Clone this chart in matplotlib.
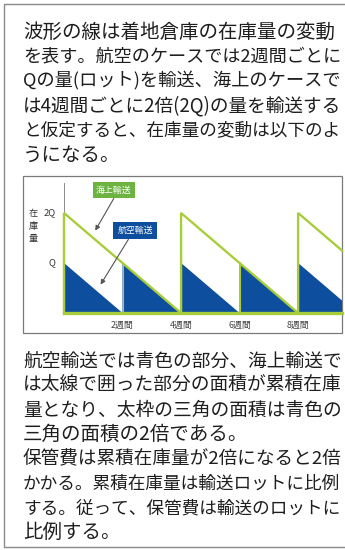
import matplotlib

matplotlib.use("Agg")

import matplotlib.pyplot as plt
from matplotlib.patches import Rectangle

plt.rcParams["font.family"] = ["Noto Sans CJK JP", "DejaVu Sans"]

# text blocks
para_top = [
    "波形の線は着地倉庫の在庫量の変動",
    "を表す。航空のケースでは2週間ごとに",
    "Qの量(ロット)を輸送、海上のケースで",
    "は4週間ごとに2倍(2Q)の量を輸送する",
    "と仮定すると、在庫量の変動は以下のよ",
    "うになる。",
]
para_bottom = [
    "航空輸送では青色の部分、海上輸送で",
    "は太線で囲った部分の面積が累積在庫",
    "量となり、太枠の三角の面積は青色の",
    "三角の面積の2倍である。",
    "保管費は累積在庫量が2倍になると2倍",
    "かかる。累積在庫量は輸送ロットに比例",
    "する。従って、保管費は輸送のロットに",
    "比例する。",
]

# inventory model (units: weeks, Q)
sea_starts = [0, 4, 8]
sea_period = 4
sea_peak = 2
air_starts = [0, 2, 4, 6, 8]
air_period = 2
air_peak = 1
x_end = 9.5
tick_weeks = [2, 4, 6, 8]
tick_labels = ["2週間", "4週間", "6週間", "8週間"]
y_ticks = [1, 2]
y_tick_labels = ["Q", "2Q"]

GREEN = "#a9cd3a"
BLUE = "#0d4e9e"
LABEL_GREEN = "#6cb33f"
W, H = 345, 550
TEXT_X, TEXT_W = 23, 319


def fit_lines(lines, y0, step, fontsize):
    texts = []
    for i, line in enumerate(lines):
        texts.append(page.text(TEXT_X, y0 + step * i, line, fontsize=fontsize,
                               color="#1e1e1e", va="center", ha="left"))
    renderer = fig.canvas.get_renderer()
    for t in texts:
        width = t.get_window_extent(renderer).width
        if width > TEXT_W:
            t.set_fontsize(fontsize * TEXT_W / width)


fig = plt.figure(figsize=(W / 100, H / 100), dpi=100)
fig.patch.set_facecolor("white")

# page overlay in pixel coords
page = fig.add_axes([0, 0, 1, 1])
page.set_xlim(0, W)
page.set_ylim(H, 0)
page.axis("off")
page.add_patch(Rectangle((4, 4), W + 10, H - 7, fill=False, ec="#8a8a8a", lw=1.0))
page.add_patch(Rectangle((23, 176), 319, 157, fill=False, ec="#7a7a7a", lw=0.9))

fit_lines(para_top, 32, 24.6, 14.0)
fit_lines(para_bottom, 361, 24.5, 14.0)

# chart axes: x0 at px 64, baseline at px 313, Q = 50 px
left, right, base, top = 64, 342, 313, 176
ax = fig.add_axes([left / W, (H - base) / H, (right - left) / W, (base - top) / H])
ax.set_xlim(0, x_end)
ax.set_ylim(0, (base - top) / 50)
ax.axis("off")
ax.patch.set_alpha(0)

for s in air_starts:
    e = s + air_period
    ax.fill([s, s, e], [0, air_peak, 0], color=BLUE, lw=0, zorder=2)
    ax.plot([s, s], [0, air_peak], color=GREEN, lw=0.8, zorder=3)

for s in sea_starts:
    e = s + sea_period
    xs = [s, s, e]
    ys = [0, sea_peak, 0]
    if e > x_end:
        xs = [s, s, x_end]
        ys = [0, sea_peak, sea_peak * (1 - (x_end - s) / sea_period)]
    ax.plot(xs, ys, color=GREEN, lw=1.7, solid_joinstyle="miter", zorder=4, clip_on=False)

ax.plot([0, x_end], [0, 0], color=GREEN, lw=2.4, zorder=4, clip_on=False)
ax.plot([0, 0], [sea_peak, 2.6], color="#8c8c8c", lw=0.7, zorder=1)

for wk, lab in zip(tick_weeks, tick_labels):
    ax.text(wk, -0.24, lab, fontsize=6.4, color="#444444", ha="center", va="center")
for yv, lab in zip(y_ticks, y_tick_labels):
    ax.text(-0.3, yv, lab, fontsize=6.8, color="#333333", ha="right", va="center")
for i, ch in enumerate("在庫量"):
    ax.text(-1.05, 2.0 - 0.26 * i, ch, fontsize=6.6, color="#333333", ha="center", va="center")

# callout labels
ax.annotate("", xy=(1.02, 1.6), xytext=(1.75, 2.34),
            arrowprops=dict(arrowstyle="-|>", color="#555555", lw=0.8, mutation_scale=7), zorder=6)
ax.annotate("", xy=(1.2, 0.52), xytext=(2.25, 1.52),
            arrowprops=dict(arrowstyle="-|>", color="#555555", lw=0.8, mutation_scale=7), zorder=6)
ax.text(1.7, 2.46, "海上輸送", fontsize=6.4, color="white", ha="center", va="center", zorder=7,
        bbox=dict(boxstyle="square,pad=0.35", fc=LABEL_GREEN, ec="none"))
ax.text(2.43, 1.66, "航空輸送", fontsize=6.4, color="white", ha="center", va="center", zorder=7,
        bbox=dict(boxstyle="square,pad=0.45", fc=BLUE, ec="none"))

fig.savefig("out.png", dpi=100)
